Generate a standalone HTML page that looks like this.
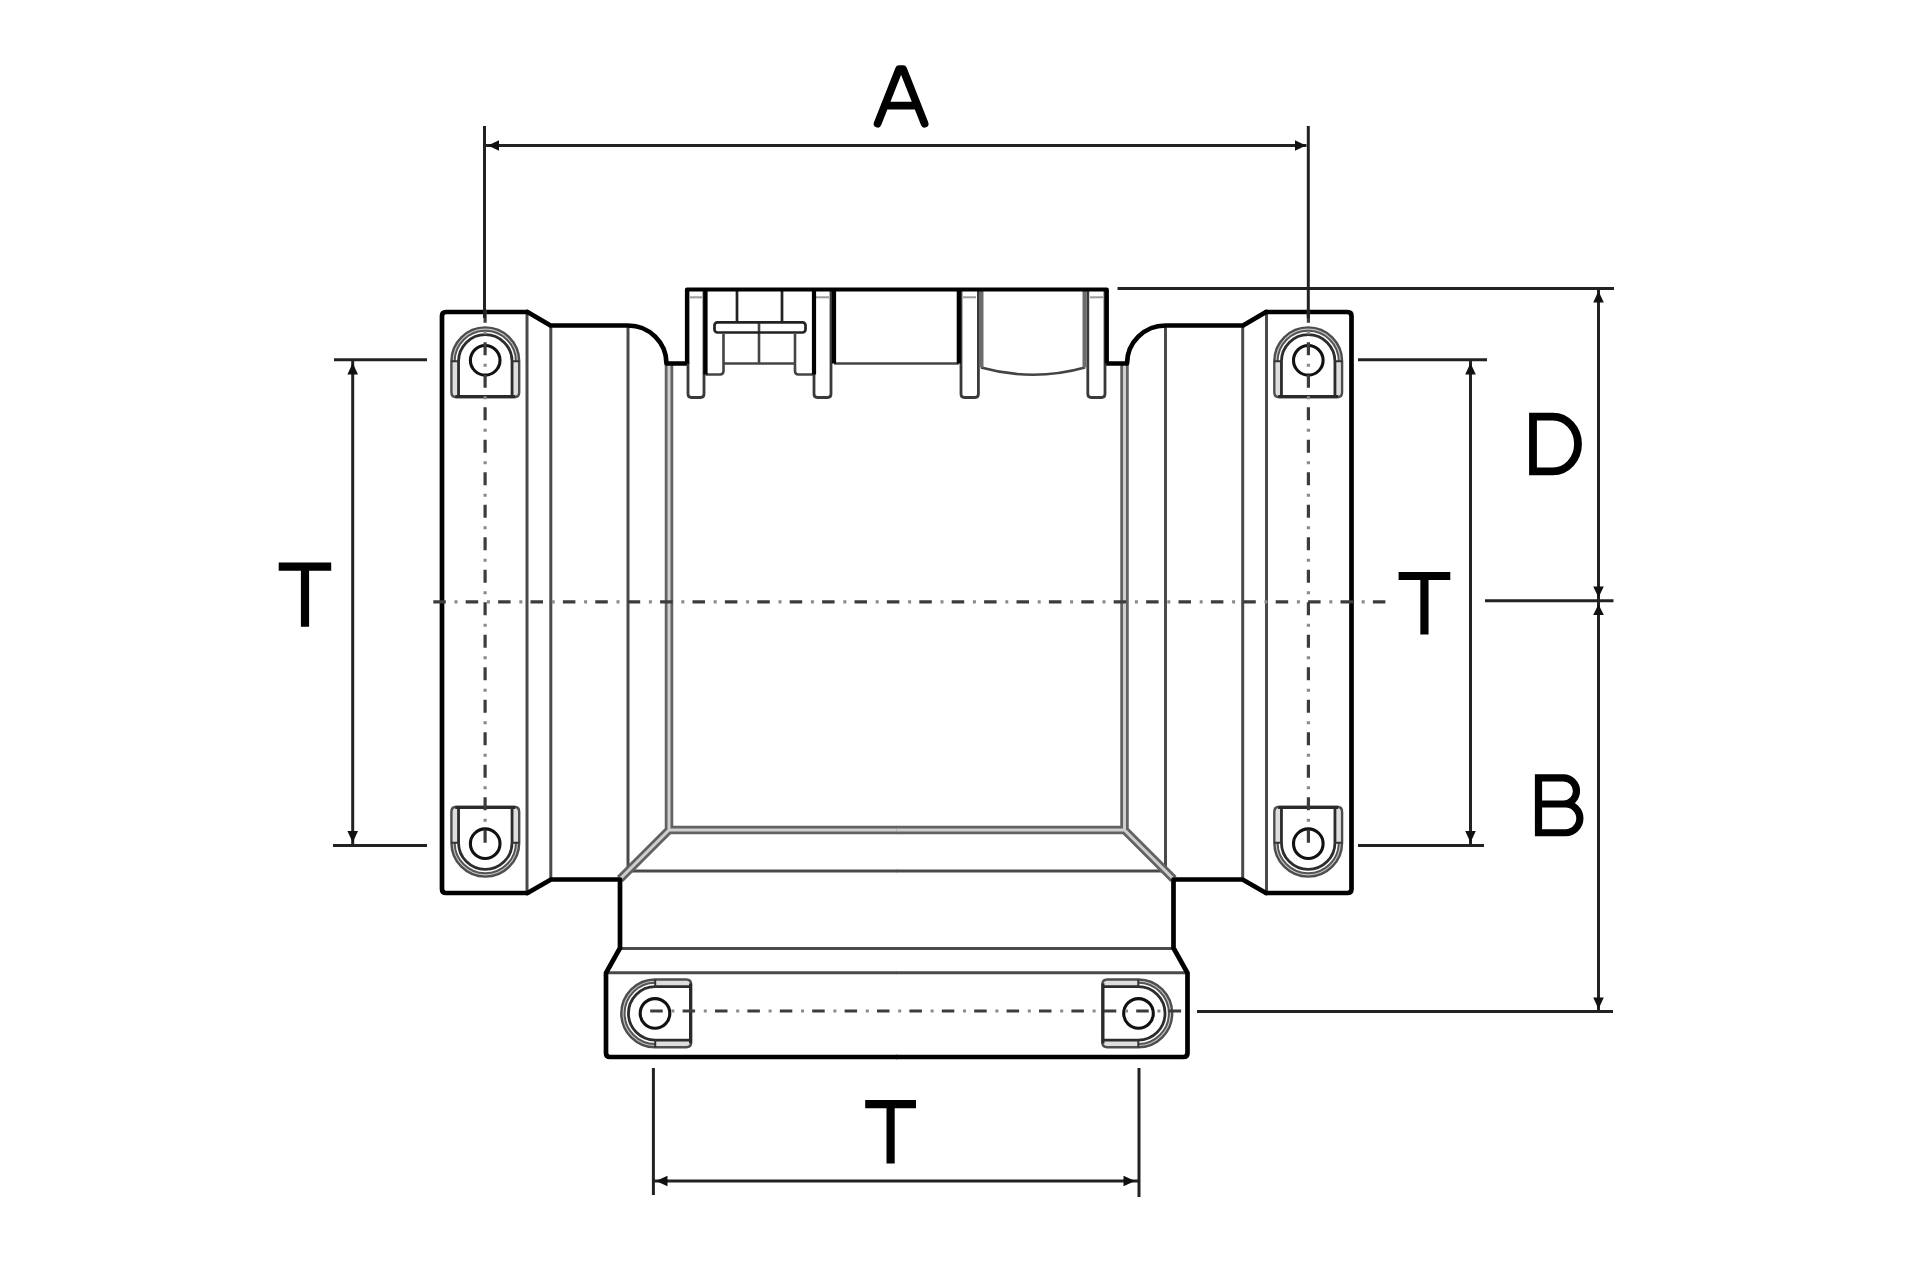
<!DOCTYPE html>
<html><head><meta charset="utf-8">
<style>
html,body{margin:0;padding:0;background:#fff;}
body{width:1920px;height:1280px;overflow:hidden;}
svg{display:block;}
text{font-family:"Liberation Sans",sans-serif;fill:#000;}
</style></head>
<body>
<svg width="1920" height="1280" viewBox="0 0 1920 1280">
<defs>
  <g id="tab">
    <path d="M -30.35,0 V 34.5 M 30.35,0 V 34.5" fill="none" stroke="#dedede" stroke-width="7"/>
    <path d="M -32.25,0 A 32.25,32.25 0 0 1 32.25,0" fill="none" stroke="#c4c4c4" stroke-width="3.3"/>
    <path d="M -33.9,0 A 33.9,33.9 0 0 1 33.9,0 V 31 Q 33.9,36 28.9,36 H -28.9 Q -33.9,36 -33.9,31 Z" fill="none" stroke="#4e4e4e" stroke-width="2.4"/>
    <path d="M -30.6,0 A 30.6,30.6 0 0 1 30.6,0" fill="none" stroke="#555" stroke-width="2"/>
    <path d="M -26.75,35.5 V 0 A 26.75,26.75 0 0 1 26.75,0 V 35.5" fill="none" stroke="#2c2c2c" stroke-width="2.8"/>
    <path d="M -34,0 H -26 M 26,0 H 34" stroke="#333" stroke-width="2"/>
    <path d="M -30,35.3 H 30" stroke="#2a2a2a" stroke-width="3"/>
  </g>
  <g id="half">
    <!-- thin lines -->
    <g fill="none" stroke="#4a4a4a" stroke-width="3">
      <path d="M 527,312 V 893"/>
      <path d="M 550.8,325.5 V 879.5"/>
      <path d="M 628,325.5 V 871 H 897"/>
      <path d="M 620,948.5 H 897"/>
      <path d="M 606,972.8 H 897"/>
    </g>
    <!-- double lines -->
    <g fill="none" stroke-linejoin="miter">
      <path d="M 669,363.5 V 830 H 897 M 669,830 L 620,879" stroke="#626262" stroke-width="8.5"/>
      <path d="M 669,363.5 V 830 H 897 M 669,830 L 620,879" stroke="#cfcfcf" stroke-width="3"/>
    </g>
    <!-- thick outline -->
    <g fill="none" stroke="#000" stroke-width="4.7" stroke-linejoin="round" stroke-linecap="round">
      <path d="M 527.5,312 H 446 Q 442,312 442,316 V 889 Q 442,893 446,893 H 527.5"/>
      <path d="M 527.5,312 L 550.5,325.5 H 628 A 38.5,38 0 0 1 666.5,363.5 H 687"/>
      <path d="M 527.5,893 L 551,879.5 H 620 V 948 L 606,973 V 1053 Q 606,1057 610,1057 H 897"/>
    </g>
    <use href="#tab" transform="translate(485.3,361.3)"/>
    <use href="#tab" transform="translate(485.3,842.7) scale(1,-1)"/>
    <use href="#tab" transform="translate(655.2,1013.4) rotate(-90)"/>
    <g fill="none" stroke="#111" stroke-width="3.1">
      <circle cx="485.2" cy="360.3" r="14.8"/>
      <circle cx="485.2" cy="843.7" r="14.8"/>
      <circle cx="655" cy="1013.4" r="14.8"/>
    </g>
  </g>
</defs>

<use href="#half"/>
<use href="#half" transform="translate(1793.5,0) scale(-1,1)"/>

<!-- saddle -->
<g fill="none" stroke-linecap="butt">
  <!-- tab lower parts -->
  <g stroke="#3a3a3a" stroke-width="2.8">
    <path d="M 688,289.5 V 394 Q 688,397.5 691.5,397.5 H 700.5 Q 704,397.5 704,394 V 289.5"/>
    <path d="M 814,289.5 V 394 Q 814,397.5 817.5,397.5 H 827.5 Q 831,397.5 831,394 V 289.5"/>
    <path d="M 961,289.5 V 394 Q 961,397.5 964.5,397.5 H 975 Q 978.4,397.5 978.4,394 V 289.5"/>
    <path d="M 1087.8,289.5 V 394 Q 1087.8,397.5 1091.3,397.5 H 1101.5 Q 1105,397.5 1105,394 V 289.5"/>
  </g>
  <g stroke="#9a9a9a" stroke-width="2">
    <path d="M 690,297.3 H 702"/><path d="M 816,297.3 H 829"/><path d="M 963,297.3 H 976"/><path d="M 1090,297.3 H 1103"/>
  </g>
  <!-- thin internal -->
  <g stroke="#444" stroke-width="2.6">
    <path d="M 723.5,363.5 H 795"/>
    <path d="M 834,363.5 H 958.8"/>
    <path d="M 759,322.3 V 363.5"/>
    <path d="M 705.5,374.5 H 720 Q 723.5,374.5 723.5,371 V 334"/>
    <path d="M 814,374.5 H 798.5 Q 795,374.5 795,371 V 334"/>
    <path d="M 981,367.5 Q 1033,382 1085,367.5"/>
  </g>
  <g stroke="#222" stroke-width="2.7">
    <rect x="714.5" y="322.3" width="91" height="10.2" rx="3"/>
    <path d="M 737,289.5 V 322.3"/>
    <path d="M 782,289.5 V 322.3"/>
  </g>
  <g stroke="#6c6c6c" stroke-width="4">
    <path d="M 981.5,289.5 V 367.5"/>
    <path d="M 1084.5,289.5 V 367.5"/>
  </g>
  <g stroke="#000" stroke-width="4.2" stroke-linejoin="round">
    <path d="M 687,363.5 V 289.5 H 1106.8 V 363.5"/>
    <path d="M 705.5,289.5 V 374.5"/>
    <path d="M 814,289.5 V 374.5"/>
    <path d="M 834,289.5 V 363.5"/>
    <path d="M 958.8,289.5 V 363.5"/>
  </g>
</g>

<!-- centerlines -->
<g fill="none" stroke-width="3.2">
  <path d="M 433.3,601.8 H 1387" stroke="#3c3c3c" stroke-dasharray="12.5 19.9"/>
  <path d="M 454.5,601.8 H 1387" stroke="#8a8a8a" stroke-dasharray="3 29.4"/>
  <path d="M 485.1,309.8 V 843" stroke="#3c3c3c" stroke-dasharray="13 19.5"/>
  <path d="M 485.1,331.3 V 843" stroke="#8a8a8a" stroke-dasharray="3 29.5"/>
  <path d="M 1308.4,309.8 V 843" stroke="#3c3c3c" stroke-dasharray="13 19.5"/>
  <path d="M 1308.4,331.3 V 843" stroke="#8a8a8a" stroke-dasharray="3 29.5"/>
  <path d="M 650.2,1011 H 1186" stroke="#3c3c3c" stroke-dasharray="12.5 19.9"/>
  <path d="M 671.4,1011 H 1186" stroke="#8a8a8a" stroke-dasharray="3 29.4"/>
</g>

<!-- dimension lines -->
<g fill="none" stroke="#222" stroke-width="3">
  <path d="M 484.5,126 V 318"/>
  <path d="M 1308.3,126 V 318"/>
  <path d="M 486,145.5 H 1306.5"/>
  <path d="M 334,359.8 H 427"/>
  <path d="M 333,845.4 H 427"/>
  <path d="M 352.7,360 V 845"/>
  <path d="M 1358,359.8 H 1487"/>
  <path d="M 1358,845.5 H 1484"/>
  <path d="M 1470.5,360 V 845"/>
  <path d="M 1117.5,288.4 H 1614"/>
  <path d="M 1598.5,288.4 V 1011.4"/>
  <path d="M 1485,600.8 H 1613.5"/>
  <path d="M 1197,1011.4 H 1613"/>
  <path d="M 653.4,1068 V 1195"/>
  <path d="M 1139,1068 V 1197"/>
  <path d="M 653.4,1181 H 1139"/>
</g>
<g fill="#111" stroke="none">
  <path d="M 488,145.5 L 499,140.2 L 499,150.8 Z"/>
  <path d="M 1306,145.5 L 1295,140.2 L 1295,150.8 Z"/>
  <path d="M 352.7,363 L 347.4,374.5 L 358,374.5 Z"/>
  <path d="M 352.7,842.5 L 347.4,831 L 358,831 Z"/>
  <path d="M 1470.5,363 L 1465.2,374.5 L 1475.8,374.5 Z"/>
  <path d="M 1470.5,842.5 L 1465.2,831 L 1475.8,831 Z"/>
  <path d="M 1598.5,291 L 1593.2,302.5 L 1603.8,302.5 Z"/>
  <path d="M 1598.5,597.5 L 1593.2,586.5 L 1603.8,586.5 Z"/>
  <path d="M 1598.5,604.3 L 1593.2,615 L 1603.8,615 Z"/>
  <path d="M 1598.5,1009 L 1593.2,997.5 L 1603.8,997.5 Z"/>
  <path d="M 656,1181 L 667.5,1175.7 L 667.5,1186.3 Z"/>
  <path d="M 1135,1181 L 1123.5,1175.7 L 1123.5,1186.3 Z"/>
</g>

<!-- letters -->
<g fill="none" stroke="#000" stroke-width="7.8" stroke-linecap="round" stroke-linejoin="round">
  <path d="M 877.6,123.6 L 899.1,69.2 H 903.1 L 924.6,123.6 M 884.7,105.6 H 917.5"/>
</g>
<g fill="none" stroke="#000" stroke-width="8.2" stroke-linecap="butt">
  <path d="M 278.7,566.6 H 331.2 M 305,566.6 V 626.7"/>
  <path d="M 1398.6,576 H 1450.3 M 1424.45,576 V 634.4"/>
  <path d="M 865.2,1104.1 H 916 M 890.6,1104.1 V 1163.4"/>
</g>
<g fill="none" stroke="#000" stroke-linejoin="miter" stroke-miterlimit="10">
  <path d="M 1533,416.6 H 1553 A 25,27.35 0 0 1 1553,471.3 H 1533 Z" stroke-width="7.8"/>
  <path d="M 1565.5,832.75 H 1538.5 V 777.9 H 1563.45 A 13.05,13.05 0 0 1 1563.45,804 H 1538.5 M 1538.5,804 H 1565.5 A 14.375,14.375 0 0 1 1565.5,832.75" stroke-width="7.2"/>
</g>
</svg>
</body></html>
